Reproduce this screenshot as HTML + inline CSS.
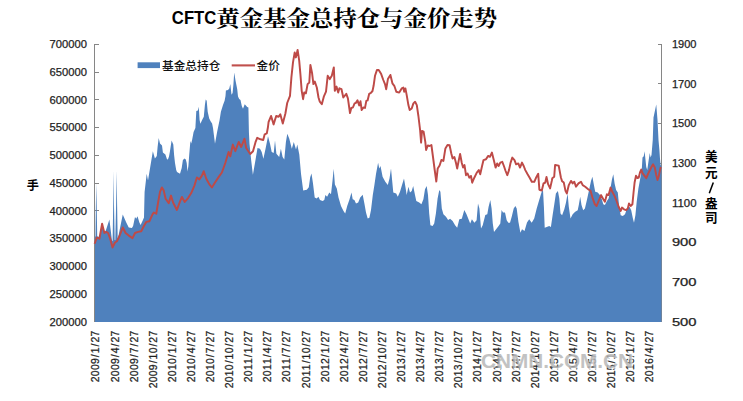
<!DOCTYPE html>
<html><head><meta charset="utf-8"><title>CFTC</title>
<style>
html,body{margin:0;padding:0;background:#fff;}
body{width:743px;height:401px;overflow:hidden;font-family:"Liberation Sans",sans-serif;}
svg{display:block;}
</style></head><body>
<svg width="743" height="401" viewBox="0 0 743 401">
<g stroke="#868686" stroke-width="1" fill="none" shape-rendering="crispEdges">
<line x1="94.5" y1="44.3" x2="94.5" y2="322"/>
<line x1="661.5" y1="44.3" x2="661.5" y2="322"/>
<line x1="94.5" y1="44.5" x2="98.5" y2="44.5"/>
<line x1="94.5" y1="72.5" x2="98.5" y2="72.5"/>
<line x1="94.5" y1="99.5" x2="98.5" y2="99.5"/>
<line x1="94.5" y1="127.5" x2="98.5" y2="127.5"/>
<line x1="94.5" y1="155.5" x2="98.5" y2="155.5"/>
<line x1="94.5" y1="183.5" x2="98.5" y2="183.5"/>
<line x1="94.5" y1="210.5" x2="98.5" y2="210.5"/>
<line x1="94.5" y1="238.5" x2="98.5" y2="238.5"/>
<line x1="94.5" y1="266.5" x2="98.5" y2="266.5"/>
<line x1="94.5" y1="294.5" x2="98.5" y2="294.5"/>
<line x1="657.5" y1="44.5" x2="661.5" y2="44.5"/>
<line x1="657.5" y1="83.5" x2="661.5" y2="83.5"/>
<line x1="657.5" y1="123.5" x2="661.5" y2="123.5"/>
<line x1="657.5" y1="163.5" x2="661.5" y2="163.5"/>
<line x1="657.5" y1="202.5" x2="661.5" y2="202.5"/>
<line x1="657.5" y1="242.5" x2="661.5" y2="242.5"/>
<line x1="657.5" y1="282.5" x2="661.5" y2="282.5"/>
</g>
<polygon points="95,237 95.5,236 95.9,205 96.3,183 96.7,205 97.2,236 98,237 100,236 102,224.5 104.4,233 106,230 109.4,219.4 111.9,240 112.6,241 113.2,205 113.6,170.5 114,205 114.7,240 115.3,240 116.1,205 116.6,170.5 117.1,205 117.7,239 118,238 122.75,214.4 126.25,222.5 128.75,227.5 131.9,228 133.1,226 135,217 136.25,218.75 137.5,216.25 139.4,222.5 140.6,225 142.5,221 144,217.5 144.4,200 144.6,192 146.7,173.8 148,180.5 152.85,151.3 154.9,158.4 156.8,156 157.6,147 158.7,137.9 160,143.4 162,145.4 162.9,152.5 165.4,154.6 167,159.2 167.9,159.6 169,156.5 170,150.9 171.6,140.4 173.3,144.6 174.1,155 175,163 176.2,170 177,172 180,173.8 181.7,168 182.9,160 184.6,158.4 185.8,159.6 186.7,163 187.5,171.5 188.4,166 189.2,155 190.4,140.9 191.2,143.4 192.1,140 193.6,131.9 195.4,128 196.3,110.9 197.9,110.4 198.8,106.7 199.6,120 200.4,123.8 202.1,120 203.8,116.7 204.9,105 205.7,99.6 206.7,100.8 207.7,111.7 209.2,118.4 210.9,121.7 212.1,123.4 213,128 213.5,132 215,143.7 217.1,131.9 219.6,120 220.9,111.7 223,105 224.6,100.8 225.5,96 225.9,90.5 228,90.1 229.3,88.5 230.3,83.9 231.5,94.7 232.6,93 233.4,84.7 234.2,72.6 235.5,80.5 237.2,88.9 238,96.4 239.2,99 240.5,100 241.8,105.9 243,108.8 244.7,104.2 245.9,105.4 247.2,107.1 248.4,107.5 248.9,131.9 249.5,143.7 251.2,160.4 252.9,174.7 255.4,160.4 257.5,147.9 260,148.7 261.7,152 263.4,158.8 265.9,147 268,136.2 270,143.7 271.7,152 273.7,153 275,140.4 276.4,153.8 279.2,157 280.9,148.7 282.6,157 284.3,159.6 285.9,142 287.3,133.7 289.3,138.7 291.8,148.7 293.8,142 296,149.6 297.3,144.6 299.3,154.6 301,173.8 303.2,190.5 306.8,189.7 308.8,187.2 310.2,177.2 311.5,173.5 313,183.4 314.7,197.6 316.7,198.4 318.4,196.8 320,200 322.6,200.9 324.3,200 325.4,195 327.1,196.8 329.3,192.6 331,194.2 332.6,180 333.7,168.8 334.9,184.5 336.8,188.6 338.5,197.6 341,206 343.5,211 345.2,213.5 347.2,206 349.3,200 351.5,192.6 352.7,199.3 354.4,200 356,203.4 358.2,202.6 360.2,197.6 362.7,194.7 364.4,203.4 366,212.6 367.7,218.5 369.4,217.7 371,210 372.8,195 374.4,185 376,174 378.1,162.7 379.3,168.5 380.5,166 382.6,176.7 385.3,181.7 387.8,185 389.5,178.4 391,168.5 392.1,180 393.3,192.6 396.2,193.4 397.8,196.8 400,191.7 402,185 404,178.4 405.4,186.7 406.7,195 408.4,186.7 410,192.5 411.7,191 413.2,186 415,195 416.3,201 419.2,202.6 421.4,204.3 423.4,199.2 425,189.2 426.7,185.9 428,195 429.2,213.5 430.4,225.2 432.6,226 434.2,223.5 435.9,213.5 437.6,198.4 439.3,190 440.4,191.7 441.8,208.4 443.4,214.3 446,216.8 448.1,220.1 450.1,218.8 452.6,221 455.1,225.2 457.2,227.7 459.3,219.3 461.8,218.8 464.3,210.1 466.5,214.3 468.5,219.3 470.2,223.5 471.9,219.3 474.4,222.7 476.6,220.2 478,203.4 479.4,208.4 481,228.5 482.7,225.2 485.3,215.1 487.3,214.3 488.6,206.8 490.3,200 491.6,208.4 492.8,223.5 494,231.9 496.1,229.3 498.6,226 500.3,223.5 501.6,210.1 503,212.6 505,212.6 506.7,220.2 508.3,222.7 510,222.7 511.7,216.8 513.7,208.4 515.4,205.9 516.7,208.4 518.4,221.8 520.4,232.7 522,229.3 524.5,231 527,222.5 529.2,219.3 531.7,222.7 534.2,218.5 536.7,208.5 539.2,200.1 541.7,191.8 543,190 543.9,206.8 544.7,227.7 546.7,226.9 549.2,226 550.9,226.9 552.6,215.2 554.3,204.3 555.9,193.4 557.9,190.9 559.3,198.4 560.5,213.5 562.1,215.2 564.3,209.3 566,202.6 567.6,193.4 568.8,206.8 570.5,218.5 572.7,214.3 575.2,211.8 577.7,210.2 578.8,205.1 580.2,196.8 581.5,205.1 583.2,210.2 584.9,208.5 586.9,200.1 589.4,188.4 591,180.9 592.4,176.7 593.9,185.1 595.2,191.8 597.7,192.6 599.9,195.1 601.6,198.4 603.3,204.3 604.9,205.1 606.9,201 608.6,198.4 610.3,189.2 612,179.2 613.3,174.2 614.6,183.4 616.1,190.1 617.8,192.6 619,205.1 620.7,215.2 622.8,216 625,214.3 627,208.5 629.5,206.8 631.2,210.2 632.9,218.5 634,222.7 635.4,215.2 636.7,201.8 638.4,188.4 640.4,177.5 641.9,167.5 642.5,157.5 643.75,156.25 644.6,151.25 645.4,158.75 646.25,166.9 647.25,170 648.5,161.25 649.75,153.1 650.6,157.5 651.5,155 652.75,140 653.5,117.5 656.25,104.4 657.5,120 658.5,140 659.4,150 660,158.75 660.6,165 661.4,166 661.4,322 95,322" fill="#4f81bd"/>
<polyline points="94.6,243.75 96.9,237.5 99.4,238.75 102.1,223.75 104.4,233 106.25,231.9 108.1,233 110,238.1 112.5,247.5 115,242.5 116.9,241.25 119.4,236.25 122.75,227.5 125.6,233 128.75,235.6 132.5,238.1 135,233 138.1,231.9 141.25,231.25 143.75,226.25 146.25,221.9 149.4,221.25 152.5,214.4 153.75,212.5 156.25,213.75 158.1,202.5 160,191.9 161.9,187.5 163.75,190.6 165.6,198.75 168.75,203.1 171,195.6 173.1,202.5 176.9,210 179.4,203.1 181.9,196.9 184.75,201.9 188.1,198.1 191.25,193.1 194.4,185.6 196.9,177.5 199.4,179.4 201.9,175.6 203.75,171.25 206.25,178.75 209.4,184.4 211.9,187.5 215,182.5 218.75,176.9 221.9,172.5 225.3,163 228.6,152 230.3,156.3 232.8,144.6 235.3,151.2 238.7,142 241.2,147 244.5,138.7 246.2,148 250.2,154 253,151.2 255.5,142.2 257.2,137.8 260.5,139.3 263.2,140 264.7,134.3 266.8,133.4 267.9,127.5 268.6,121.9 271.1,116 273.6,124.4 276.2,116 278.7,116.8 280.3,114.3 282.8,123.5 285.4,113.5 287.2,103 290,95.8 291.4,77.4 293,62.4 294.7,52.4 295.9,57.4 297.6,49.9 299.2,60.7 300.4,74.1 301.7,90.8 303.1,99.2 304.2,92.5 305.9,93.3 307.6,84.1 309.3,82.5 310.4,64.9 312.1,73.3 313.4,84.1 314.8,81.6 316.8,87.5 318.5,97.5 319.8,101.7 321.8,104.2 323.8,96.7 326,91.7 327.7,75.8 329.8,79.1 331.8,75.8 333.8,67.4 334.8,90.8 336.5,86.6 338.2,92.5 339.4,88.3 341.5,89.2 343.3,97.5 346.3,93.8 347.9,98.3 350,113 351.3,107.9 352.9,107.5 354.6,103.4 355.9,102.9 357.5,100.4 359.2,105.4 360.5,101.3 361.7,110 363.4,107.5 365,107.9 366.3,100.9 367.6,100.4 369.2,93.8 370.9,92.9 372.5,91 373.6,85.8 375,75.8 377,69.9 378.7,69.9 381.2,74.1 383.3,80 385,84.1 386.2,89.2 387.9,79.1 390.4,74.9 392.4,83.3 394.3,85.8 396.3,91.7 399.2,92.6 401.7,88.4 403.4,87.6 404.2,91.7 405.4,88.4 406.7,95.1 408.4,105.1 409.7,110.1 411.7,108.5 413.4,103.4 415.1,101.8 416.8,105.1 418.4,116 420.1,130 421.1,142.6 422,131 423.6,131.7 425.3,141.8 426.1,150 427.8,145.5 429.5,146 431.4,145 433,157 434.7,170 436.3,181.5 437.7,168.5 439.6,165.5 441.4,160 443.4,160.9 445.4,148.4 447.5,145 449.6,145.3 451.3,153.5 452.6,158.5 454.4,157 456,163 457.2,168.5 458.8,160.1 460.1,154 461.8,163 463.1,167.6 464.5,165.1 466,175.2 467.6,173.5 469.3,177.7 471,176 472.2,182.7 474.3,177.7 476.8,172.6 478.8,170.1 480.2,174.3 481.9,166.8 483.5,160.1 486,159.3 488.2,155.9 489.9,156.8 491.9,152.6 493.6,159.3 495.6,167.6 497.2,163.4 498.6,166 500.3,162.6 502.3,161.8 503.9,166 505.6,171 507.3,175.2 509,170.1 510.6,162.6 512.3,157.6 514.5,160.1 516.1,164.3 518.3,163.4 520,167.6 522,162.6 523.7,166 525.3,170.1 527.6,174.3 529.8,178 531.8,181.8 534.3,181.8 536.3,177.2 538.2,173.8 539.4,189.8 541.8,190.5 543.5,183.5 545.2,182.7 546.5,176.9 548.1,184.2 550.1,188.4 551.8,180.9 552.3,178.2 554.2,176.7 555.1,165 558.7,165.6 560.9,177.5 562.1,181.3 563.8,182.6 565.5,190.9 566.8,193.4 568.8,185.1 571,180.9 572.7,183.4 574.3,181.7 576,186.7 578.5,183.4 581,181.7 582.7,185.1 585.2,186.7 588.2,189.2 590.6,190.9 592.7,198.4 594.9,204.3 596.6,206 598.6,201 601.1,195.1 603.3,199.3 604.9,201.8 606.9,194.3 608.6,195.1 610.6,187.6 612.3,191.8 614.5,195.9 616.6,201 618.6,206.8 620.7,211 622,207.6 624,209.3 626.2,210.2 627.8,208.5 629,203.5 630.7,206 632.4,204.3 633.5,193 634.6,182.5 636,175.8 637.5,178.1 638.75,177.5 640,172.5 641.25,169.6 642.5,173.1 644.4,175.6 646.25,178.1 648.1,173.75 650,170 651.5,166.9 653.1,164.4 654.75,167.5 656.25,175 657.5,180 658.75,176.25 660,170 660.75,166.9" fill="none" stroke="#be4a47" stroke-width="1.95" stroke-linejoin="round" stroke-linecap="butt"/>
<g font-family="'Liberation Sans', sans-serif" font-size="10.4" fill="#1f1f1f" stroke="#1f1f1f" stroke-width="0.25">
<text x="49.5" y="48.05" textLength="37.4" lengthAdjust="spacingAndGlyphs">700000</text>
<text x="49.5" y="75.82" textLength="37.4" lengthAdjust="spacingAndGlyphs">650000</text>
<text x="49.5" y="103.59" textLength="37.4" lengthAdjust="spacingAndGlyphs">600000</text>
<text x="49.5" y="131.36" textLength="37.4" lengthAdjust="spacingAndGlyphs">550000</text>
<text x="49.5" y="159.13" textLength="37.4" lengthAdjust="spacingAndGlyphs">500000</text>
<text x="49.5" y="186.9" textLength="37.4" lengthAdjust="spacingAndGlyphs">450000</text>
<text x="49.5" y="214.67" textLength="37.4" lengthAdjust="spacingAndGlyphs">400000</text>
<text x="49.5" y="242.44" textLength="37.4" lengthAdjust="spacingAndGlyphs">350000</text>
<text x="49.5" y="270.21" textLength="37.4" lengthAdjust="spacingAndGlyphs">300000</text>
<text x="49.5" y="297.98" textLength="37.4" lengthAdjust="spacingAndGlyphs">250000</text>
<text x="49.5" y="325.75" textLength="37.4" lengthAdjust="spacingAndGlyphs">200000</text>
<text x="671.9" y="48.05" textLength="24.6" lengthAdjust="spacingAndGlyphs">1900</text>
<text x="671.9" y="87.72" textLength="24.6" lengthAdjust="spacingAndGlyphs">1700</text>
<text x="671.9" y="127.39" textLength="24.6" lengthAdjust="spacingAndGlyphs">1500</text>
<text x="671.9" y="167.06" textLength="24.6" lengthAdjust="spacingAndGlyphs">1300</text>
<text x="671.9" y="206.74" textLength="24.6" lengthAdjust="spacingAndGlyphs">1100</text>
<text x="671.9" y="246.41" textLength="24.6" lengthAdjust="spacingAndGlyphs">900</text>
<text x="671.9" y="286.08" textLength="24.6" lengthAdjust="spacingAndGlyphs">700</text>
<text x="671.9" y="325.75" textLength="24.6" lengthAdjust="spacingAndGlyphs">500</text>
</g>
<g font-family="'Liberation Sans', sans-serif" font-size="10.4" fill="#1f1f1f" stroke="#1f1f1f" stroke-width="0.25">
<text transform="translate(99.4 382.42) rotate(-90)" x="0.15 6.23 12.31 18.39 25.19 29.1 35.9 39.81 45.89">2009/1/27</text>
<text transform="translate(118.5 382.42) rotate(-90)" x="0.15 6.23 12.31 18.39 25.19 29.1 35.9 39.81 45.89">2009/4/27</text>
<text transform="translate(137.6 382.42) rotate(-90)" x="0.15 6.23 12.31 18.39 25.19 29.1 35.9 39.81 45.89">2009/7/27</text>
<text transform="translate(156.7 388.5) rotate(-90)" x="0.15 6.23 12.31 18.39 25.19 29.1 35.18 41.98 45.89 51.97">2009/10/27</text>
<text transform="translate(175.8 382.42) rotate(-90)" x="0.15 6.23 12.31 18.39 25.19 29.1 35.9 39.81 45.89">2010/1/27</text>
<text transform="translate(194.9 382.42) rotate(-90)" x="0.15 6.23 12.31 18.39 25.19 29.1 35.9 39.81 45.89">2010/4/27</text>
<text transform="translate(214 382.42) rotate(-90)" x="0.15 6.23 12.31 18.39 25.19 29.1 35.9 39.81 45.89">2010/7/27</text>
<text transform="translate(233.1 388.5) rotate(-90)" x="0.15 6.23 12.31 18.39 25.19 29.1 35.18 41.98 45.89 51.97">2010/10/27</text>
<text transform="translate(252.2 382.42) rotate(-90)" x="0.15 6.23 12.31 18.39 25.19 29.1 35.9 39.81 45.89">2011/1/27</text>
<text transform="translate(271.3 382.42) rotate(-90)" x="0.15 6.23 12.31 18.39 25.19 29.1 35.9 39.81 45.89">2011/4/27</text>
<text transform="translate(290.4 382.42) rotate(-90)" x="0.15 6.23 12.31 18.39 25.19 29.1 35.9 39.81 45.89">2011/7/27</text>
<text transform="translate(309.5 388.5) rotate(-90)" x="0.15 6.23 12.31 18.39 25.19 29.1 35.18 41.98 45.89 51.97">2011/10/27</text>
<text transform="translate(328.6 382.42) rotate(-90)" x="0.15 6.23 12.31 18.39 25.19 29.1 35.9 39.81 45.89">2012/1/27</text>
<text transform="translate(347.7 382.42) rotate(-90)" x="0.15 6.23 12.31 18.39 25.19 29.1 35.9 39.81 45.89">2012/4/27</text>
<text transform="translate(366.8 382.42) rotate(-90)" x="0.15 6.23 12.31 18.39 25.19 29.1 35.9 39.81 45.89">2012/7/27</text>
<text transform="translate(385.9 388.5) rotate(-90)" x="0.15 6.23 12.31 18.39 25.19 29.1 35.18 41.98 45.89 51.97">2012/10/27</text>
<text transform="translate(405 382.42) rotate(-90)" x="0.15 6.23 12.31 18.39 25.19 29.1 35.9 39.81 45.89">2013/1/27</text>
<text transform="translate(424.1 382.42) rotate(-90)" x="0.15 6.23 12.31 18.39 25.19 29.1 35.9 39.81 45.89">2013/4/27</text>
<text transform="translate(443.2 382.42) rotate(-90)" x="0.15 6.23 12.31 18.39 25.19 29.1 35.9 39.81 45.89">2013/7/27</text>
<text transform="translate(462.3 388.5) rotate(-90)" x="0.15 6.23 12.31 18.39 25.19 29.1 35.18 41.98 45.89 51.97">2013/10/27</text>
<text transform="translate(481.4 382.42) rotate(-90)" x="0.15 6.23 12.31 18.39 25.19 29.1 35.9 39.81 45.89">2014/1/27</text>
<text transform="translate(500.5 382.42) rotate(-90)" x="0.15 6.23 12.31 18.39 25.19 29.1 35.9 39.81 45.89">2014/4/27</text>
<text transform="translate(519.6 382.42) rotate(-90)" x="0.15 6.23 12.31 18.39 25.19 29.1 35.9 39.81 45.89">2014/7/27</text>
<text transform="translate(538.7 388.5) rotate(-90)" x="0.15 6.23 12.31 18.39 25.19 29.1 35.18 41.98 45.89 51.97">2014/10/27</text>
<text transform="translate(557.8 382.42) rotate(-90)" x="0.15 6.23 12.31 18.39 25.19 29.1 35.9 39.81 45.89">2015/1/27</text>
<text transform="translate(576.9 382.42) rotate(-90)" x="0.15 6.23 12.31 18.39 25.19 29.1 35.9 39.81 45.89">2015/4/27</text>
<text transform="translate(596 382.42) rotate(-90)" x="0.15 6.23 12.31 18.39 25.19 29.1 35.9 39.81 45.89">2015/7/27</text>
<text transform="translate(615.1 388.5) rotate(-90)" x="0.15 6.23 12.31 18.39 25.19 29.1 35.18 41.98 45.89 51.97">2015/10/27</text>
<text transform="translate(634.2 382.42) rotate(-90)" x="0.15 6.23 12.31 18.39 25.19 29.1 35.9 39.81 45.89">2016/1/27</text>
<text transform="translate(653.3 382.42) rotate(-90)" x="0.15 6.23 12.31 18.39 25.19 29.1 35.9 39.81 45.89">2016/4/27</text>
</g>
<text x="171.8" y="23.5" font-family="'Liberation Sans', sans-serif" font-weight="bold" font-size="18.8" textLength="44.6" lengthAdjust="spacingAndGlyphs" fill="#000">CFTC</text>
<text x="216.3" y="25.5" font-family="'Liberation Serif', 'Noto Serif CJK SC', serif" font-weight="bold" font-size="22" textLength="280.8" lengthAdjust="spacingAndGlyphs" fill="#000">黄金基金总持仓与金价走势</text>
<rect x="137.6" y="62.3" width="22.4" height="5.8" fill="#4f81bd"/>
<text x="162.1" y="70.4" font-family="'Liberation Sans', 'Noto Sans CJK SC', sans-serif" font-weight="500" font-size="11.6" textLength="58.2" lengthAdjust="spacingAndGlyphs" fill="#111">基金总持仓</text>
<line x1="231.7" y1="65.4" x2="255" y2="65.4" stroke="#c0504d" stroke-width="2.1"/>
<text x="256.6" y="70.4" font-family="'Liberation Sans', 'Noto Sans CJK SC', sans-serif" font-weight="500" font-size="11.6" textLength="23.3" lengthAdjust="spacingAndGlyphs" fill="#111">金价</text>
<text x="26.65" y="189.5" font-family="'Liberation Sans', 'Noto Sans CJK SC', sans-serif" font-weight="bold" font-size="12.1" fill="#000">手</text>
<g font-family="'Liberation Sans', 'Noto Sans CJK SC', sans-serif" font-weight="bold" font-size="12.6" fill="#000">
<text x="704.9" y="160.6">美</text>
<text x="704.9" y="177.4">元</text>
<text x="704.9" y="208.3">盎</text>
<text x="704.9" y="221.9">司</text>
</g>
<line x1="709.3" y1="193.2" x2="713.3" y2="182.4" stroke="#000" stroke-width="1.5"/>
<g font-family="'Liberation Sans', sans-serif" font-weight="bold" font-size="20">
<text x="482.1" y="369.1" textLength="152" lengthAdjust="spacingAndGlyphs" fill="#ffffff" opacity="0.7">CNMN.COM.CN</text>
<text x="481" y="368" textLength="152" lengthAdjust="spacingAndGlyphs" fill="#9a9a9a" opacity="0.6">CNMN.COM.CN</text>
</g>
</svg>
</body></html>
